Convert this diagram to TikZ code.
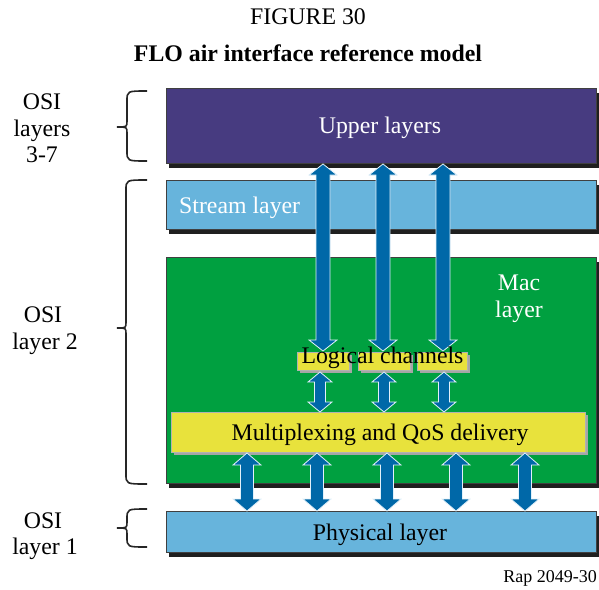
\documentclass[tikz,border=0pt]{standalone}
\usepackage{fontspec}
\setmainfont{Liberation Serif}
\usetikzlibrary{shadows}
\definecolor{upperc}{RGB}{71,59,128}
\definecolor{lightb}{RGB}{103,180,220}
\definecolor{macg}{RGB}{0,160,64}
\definecolor{yel}{RGB}{232,226,60}
\definecolor{arrb}{RGB}{0,104,168}
\definecolor{arredge}{RGB}{225,240,250}

% double-headed block arrow: x, top tip y, bottom tip y, half shaft, half head, head length
\newcommand\blockarrow[6]{%
  \filldraw[arrowfill] (#1-#5,#2+#6) -- (#1,#2) -- (#1+#5,#2+#6) -- (#1+#4,#2+#6)
    -- (#1+#4,#3-#6) -- (#1+#5,#3-#6) -- (#1,#3) -- (#1-#5,#3-#6)
    -- (#1-#4,#3-#6) -- (#1-#4,#2+#6) -- cycle;}
% curly brace: x of ends, x of spine, x of tip, top y, bottom y, middle y
\newcommand\osibrace[6]{%
  \draw[bracestyle] (#1,#4) .. controls (#2,#4) and (#2,#4) .. (#2,#4+10)
    -- (#2,#6-6) .. controls (#2,#6) and (#2,#6) .. (#3,#6)
    .. controls (#2,#6) and (#2,#6) .. (#2,#6+6)
    -- (#2,#5-10) .. controls (#2,#5) and (#2,#5) .. (#1,#5);}

\begin{document}
\begin{tikzpicture}[x=1pt,y=-1pt,
  layerbox/.style={draw=black!75, line width=0.6pt, inner sep=0pt, minimum width=430pt,
    drop shadow={shadow xshift=3pt,shadow yshift=-5pt,fill=black!88,opacity=1}},
  yelbox/.style={fill=yel, draw=black!30, line width=0.6pt, inner sep=0pt,
    drop shadow={shadow xshift=3pt,shadow yshift=-3pt,fill=black!35,opacity=1}},
  lbl/.style={font=\fontsize{23.8}{28}\selectfont, anchor=base, inner sep=0pt},
  arrowfill/.style={fill=arrb, draw=arredge, line width=0.8pt, line join=miter},
  bracestyle/.style={draw=black!85, line width=1.6pt}]
\useasboundingbox (0,0) rectangle (599,589);

% titles
\node[lbl] (fig) at (308,24) {FIGURE 30};
\node[lbl, font=\fontsize{23.8}{28}\selectfont\bfseries] (title) at (308,61) {FLO air interface reference model};

% layer boxes
\node[layerbox, fill=upperc, minimum height=75pt] (upper) at (381,125.5) {};
\node[layerbox, fill=lightb, minimum height=49pt] (stream) at (381,204.5) {};
\node[layerbox, fill=macg, minimum height=226pt] (mac) at (381,370) {};
\node[layerbox, fill=lightb, minimum height=41pt] (phys) at (381,531.5) {};
\node[yelbox, minimum width=414pt, minimum height=40pt] (mux) at (378,432) {};
\node[yelbox, minimum width=52pt, minimum height=18pt] (lc1) at (323,361) {};
\node[yelbox, minimum width=52pt, minimum height=18pt] (lc2) at (384,361) {};
\node[yelbox, minimum width=50pt, minimum height=18pt] (lc3) at (442,361) {};

% arrows between upper layers and logical channels
\blockarrow{323}{164}{351}{7}{14}{11}
\blockarrow{383}{164}{351}{7}{14}{11}
\blockarrow{443}{164}{351}{7}{14}{11}
% arrows between logical channels and multiplexing
\blockarrow{320}{372}{412}{5.5}{12}{10}
\blockarrow{384}{372}{412}{5.5}{12}{10}
\blockarrow{444}{372}{412}{5.5}{12}{10}
% arrows between multiplexing and physical layer
\blockarrow{247}{453}{511}{6.5}{14}{12}
\blockarrow{317}{453}{511}{6.5}{14}{12}
\blockarrow{387}{453}{511}{6.5}{14}{12}
\blockarrow{456}{453}{511}{6.5}{14}{12}
\blockarrow{525}{453}{511}{6.5}{14}{12}

% box labels
\node[lbl, text=white] (tupper) at (380,133) {Upper layers};
\node[lbl, text=white, anchor=base west] (tstream) at (179,213) {Stream layer};
\node[lbl, text=white] (tmac1) at (519,290) {Mac};
\node[lbl, text=white] (tmac2) at (519,317) {layer};
\node[lbl] (tlc) at (382.5,363) {Logical channels};
\node[lbl] (tmux) at (380,440) {Multiplexing and QoS delivery};
\node[lbl] (tphys) at (380,540) {Physical layer};

% OSI braces and labels
\osibrace{147}{127}{117}{91}{161}{127}
\osibrace{147}{126}{117}{180}{484}{328}
\osibrace{147}{127}{117}{509}{547}{528}
\node[lbl] (o1a) at (42,109) {OSI};
\node[lbl] (o1b) at (42,136) {layers};
\node[lbl] (o1c) at (42,162) {3-7};
\node[lbl] (o2a) at (43,322) {OSI};
\node[lbl] (o2b) at (45,349) {layer 2};
\node[lbl] (o3a) at (43,528) {OSI};
\node[lbl] (o3b) at (45,554) {layer 1};

% figure reference
\node[lbl, font=\fontsize{18}{22}\selectfont, anchor=base east] (rap) at (597,582) {Rap 2049-30};
\end{tikzpicture}
\end{document}
